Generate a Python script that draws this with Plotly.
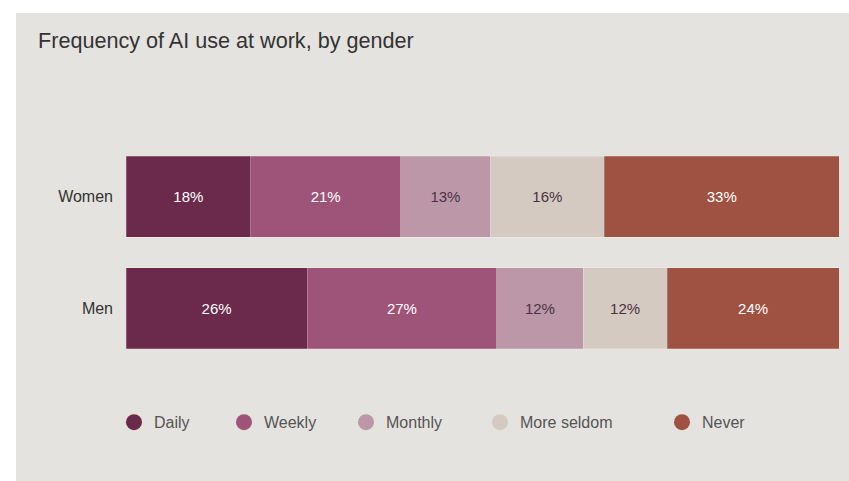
import plotly.graph_objects as go

# ---- data ----
groups = ["Men", "Women"]
series = ["Daily", "Weekly", "Monthly", "More seldom", "Never"]
women_vals = [17.5, 21.0, 12.6, 16.0, 32.9]
men_vals = [25.4, 26.6, 12.1, 11.8, 24.1]
women_labels = ["18%", "21%", "13%", "16%", "33%"]
men_labels = ["26%", "27%", "12%", "12%", "24%"]
colors = ["#6b2a4b", "#9e5479", "#bc97a8", "#d5cac1", "#a05242"]
text_colors = ["#ffffff", "#ffffff", "#4a3344", "#4a3344", "#ffffff"]

W, H = 849, 481
ml, mr, mt, mb = 126, 10, 140.5, 116.5
pw, ph = W - ml - mr, H - mt - mb
panel = "#e5e3df"

def px_to_paper_x(px):
    return (px - ml) / pw

def py_to_paper_y(py):
    return (H - mb - py) / ph

fig = go.Figure()
for i, s in enumerate(series):
    fig.add_trace(go.Bar(
        y=groups,
        x=[men_vals[i], women_vals[i]],
        orientation="h",
        name=s,
        marker=dict(color=colors[i], line=dict(width=0.6, color="rgba(255,255,255,0.35)")),
        text=[men_labels[i], women_labels[i]],
        textposition="inside",
        insidetextanchor="middle",
        textfont=dict(family="Liberation Sans, Arial, sans-serif", size=15, color=text_colors[i]),
        showlegend=False,
        hoverinfo="skip",
    ))

# legend proxies (circles), each in its own legend for exact placement
marker_centers = [134, 244, 366, 500, 682]
legend_layouts = {}
for i, s in enumerate(series):
    lname = "legend" if i == 0 else f"legend{i+1}"
    fig.add_trace(go.Scatter(
        x=[None], y=[None], mode="markers", name=s,
        marker=dict(symbol="circle", size=18, color=colors[i]),
        legend=lname, showlegend=True, hoverinfo="skip",
    ))
    legend_layouts[lname] = dict(
        x=px_to_paper_x(marker_centers[i] - 20), xanchor="left",
        y=py_to_paper_y(423), yanchor="middle",
        orientation="h", bgcolor="rgba(0,0,0,0)", borderwidth=0,
        font=dict(family="Liberation Sans, Arial, sans-serif", size=16, color="#555555"),
        itemclick=False, itemdoubleclick=False,
    )

fig.update_layout(
    width=W, height=H,
    margin=dict(l=ml, r=mr, t=mt, b=mb, pad=0),
    barmode="stack",
    bargap=0.277,
    paper_bgcolor="#ffffff",
    plot_bgcolor=panel,
    title=dict(
        text="Frequency of AI use at work, by gender",
        x=38 / W, xanchor="left", y=1 - 40 / H, yanchor="middle",
        font=dict(family="Liberation Sans, Arial, sans-serif", size=21.6, color="#333333"),
    ),
    xaxis=dict(range=[0, 100], visible=False, fixedrange=True),
    yaxis=dict(
        type="category", categoryorder="array", categoryarray=groups,
        range=[-0.5, 1.5], showgrid=False, zeroline=False, showline=False,
        ticks="", ticklabelstandoff=12,
        tickfont=dict(family="Liberation Sans, Arial, sans-serif", size=16, color="#333333"),
        fixedrange=True,
    ),
    shapes=[dict(
        type="rect", xref="paper", yref="paper", layer="below",
        x0=px_to_paper_x(16), x1=px_to_paper_x(W + 2),
        y0=py_to_paper_y(H + 2), y1=py_to_paper_y(12),
        fillcolor=panel, line=dict(width=0),
    )],
    uniformtext=dict(mode="show", minsize=10),
    **legend_layouts,
)

fig.write_html("out.html")
